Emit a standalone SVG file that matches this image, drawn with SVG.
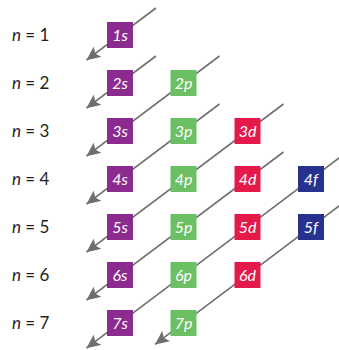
<svg xmlns="http://www.w3.org/2000/svg" width="339" height="350" viewBox="0 0 339 350">
<style>
.bg{fill:#ffffff}
.lbl{font-family:Lato,"Open Sans",sans-serif;font-size:17px;fill:#231f20}
.lbl .i{font-style:italic}
.box text{font-family:Lato,"Open Sans",sans-serif;font-size:16px;font-style:italic;fill:#ffffff;text-anchor:middle}
.s rect{fill:#8b2b8e}
.p rect{fill:#6cbf63}
.d rect{fill:#e6194b}
.f rect{fill:#27318e}
#connectors line{stroke:#6e6e6e;stroke-width:1.6;fill:none;marker-end:url(#ah)}
</style>
<defs>
<marker id="ah" markerUnits="userSpaceOnUse" markerWidth="15" markerHeight="13" viewBox="0 0 15 13" refX="14" refY="6.5" orient="auto">
<path d="M0,0 L14,6.5 L0,13 L3,6.5 z" fill="#6e6e6e"/>
</marker>
</defs>
<rect class="bg" x="0" y="0" width="339" height="350"/>
<g id="labels">
<text class="lbl" x="12" y="41"><tspan class="i">n</tspan> = 1</text>
<text class="lbl" x="12" y="89"><tspan class="i">n</tspan> = 2</text>
<text class="lbl" x="12" y="137"><tspan class="i">n</tspan> = 3</text>
<text class="lbl" x="12" y="185"><tspan class="i">n</tspan> = 4</text>
<text class="lbl" x="12" y="233"><tspan class="i">n</tspan> = 5</text>
<text class="lbl" x="12" y="281"><tspan class="i">n</tspan> = 6</text>
<text class="lbl" x="12" y="329"><tspan class="i">n</tspan> = 7</text>
</g>
<g id="connectors">
<line x1="156" y1="8" x2="86.4" y2="60.2"/>
<line x1="156" y1="56" x2="86.4" y2="108.2"/>
<line x1="219.5" y1="56" x2="86.4" y2="156.2"/>
<line x1="219.5" y1="104" x2="86.4" y2="204.2"/>
<line x1="283.5" y1="104" x2="86.4" y2="252.2"/>
<line x1="283.5" y1="152" x2="86.4" y2="300.2"/>
<line x1="347" y1="152" x2="86.4" y2="348.2"/>
<line x1="347" y1="200" x2="155" y2="344.4"/>
</g>
<g id="n1s" class="box s"><rect x="107" y="22" width="26" height="26"/><text x="120" y="40.5">1s</text></g>
<g id="n2s" class="box s"><rect x="107" y="70" width="26" height="26"/><text x="120" y="88.5">2s</text></g>
<g id="n2p" class="box p"><rect x="170.5" y="70" width="26" height="26"/><text x="183.5" y="88.5">2p</text></g>
<g id="n3s" class="box s"><rect x="107" y="118" width="26" height="26"/><text x="120" y="136.5">3s</text></g>
<g id="n3p" class="box p"><rect x="170.5" y="118" width="26" height="26"/><text x="183.5" y="136.5">3p</text></g>
<g id="n3d" class="box d"><rect x="234.5" y="118" width="26" height="26"/><text x="247.5" y="136.5">3d</text></g>
<g id="n4s" class="box s"><rect x="107" y="166" width="26" height="26"/><text x="120" y="184.5">4s</text></g>
<g id="n4p" class="box p"><rect x="170.5" y="166" width="26" height="26"/><text x="183.5" y="184.5">4p</text></g>
<g id="n4d" class="box d"><rect x="234.5" y="166" width="26" height="26"/><text x="247.5" y="184.5">4d</text></g>
<g id="n4f" class="box f"><rect x="298" y="166" width="26" height="26"/><text x="311" y="184.5">4f</text></g>
<g id="n5s" class="box s"><rect x="107" y="214" width="26" height="26"/><text x="120" y="232.5">5s</text></g>
<g id="n5p" class="box p"><rect x="170.5" y="214" width="26" height="26"/><text x="183.5" y="232.5">5p</text></g>
<g id="n5d" class="box d"><rect x="234.5" y="214" width="26" height="26"/><text x="247.5" y="232.5">5d</text></g>
<g id="n5f" class="box f"><rect x="298" y="214" width="26" height="26"/><text x="311" y="232.5">5f</text></g>
<g id="n6s" class="box s"><rect x="107" y="262" width="26" height="26"/><text x="120" y="280.5">6s</text></g>
<g id="n6p" class="box p"><rect x="170.5" y="262" width="26" height="26"/><text x="183.5" y="280.5">6p</text></g>
<g id="n6d" class="box d"><rect x="234.5" y="262" width="26" height="26"/><text x="247.5" y="280.5">6d</text></g>
<g id="n7s" class="box s"><rect x="107" y="310" width="26" height="26"/><text x="120" y="328.5">7s</text></g>
<g id="n7p" class="box p"><rect x="170.5" y="310" width="26" height="26"/><text x="183.5" y="328.5">7p</text></g>
</svg>
